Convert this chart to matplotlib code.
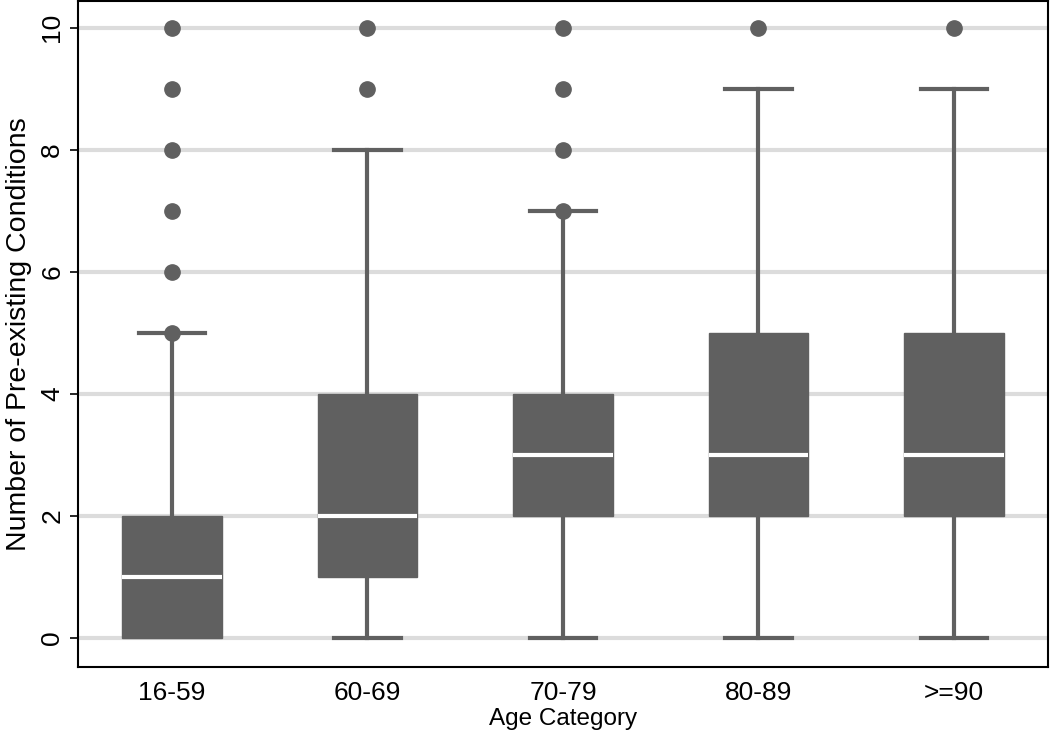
import matplotlib
matplotlib.use("Agg")
import matplotlib.pyplot as plt

plt.rcParams["font.family"] = ["Liberation Sans", "DejaVu Sans"]

categories = ["16-59", "60-69", "70-79", "80-89", ">=90"]
q1 = [0, 1, 2, 2, 2]
medians = [1, 2, 3, 3, 3]
q3 = [2, 4, 4, 5, 5]
whisker_low = [0, 0, 0, 0, 0]
whisker_high = [5, 8, 7, 9, 9]
outliers = [
    [5, 6, 7, 8, 9, 10],
    [9, 10],
    [7, 8, 9, 10],
    [10],
    [10],
]

stats = []
for i, name in enumerate(categories):
    stats.append({
        "label": name,
        "q1": q1[i],
        "med": medians[i],
        "q3": q3[i],
        "whislo": whisker_low[i],
        "whishi": whisker_high[i],
        "fliers": outliers[i],
    })

box_color = "#606060"

fig = plt.figure(figsize=(10.5, 7.45), dpi=100)
ax = fig.add_axes([0.0743, 0.1047, 0.9237, 0.894])

parts = ax.bxp(
    stats,
    positions=range(1, len(categories) + 1),
    widths=0.51,
    patch_artist=True,
    showfliers=True,
    boxprops=dict(facecolor=box_color, edgecolor=box_color, linewidth=1),
    medianprops=dict(color="white", linewidth=3),
    whiskerprops=dict(color=box_color, linewidth=3),
    capprops=dict(color=box_color, linewidth=3),
    capwidths=0.34,
    flierprops=dict(marker="o", markerfacecolor=box_color,
                    markeredgecolor=box_color, markersize=11),
    zorder=3,
)

# lower whisker coincides with the box bottom in the first group
for i in range(len(categories)):
    if whisker_low[i] == q1[i]:
        parts["caps"][2 * i].set_visible(False)

ax.set_xlim(0.52, 5.48)
ax.set_ylim(-0.475, 10.44)
ax.set_yticks(range(0, 11, 2))
ax.yaxis.grid(True, color="#dcdcdc", linewidth=3)
ax.set_axisbelow(True)

ax.tick_params(axis="x", length=0, labelsize=19, pad=10)
ax.tick_params(axis="y", length=6, width=1.2, labelsize=19, pad=4)
for lbl in ax.get_yticklabels():
    lbl.set_rotation(90)
    lbl.set_va("center")

for s in ax.spines.values():
    s.set_linewidth(1.5)
    s.set_color("black")

ax.set_xlabel("Age Category", fontsize=17.5, labelpad=2)
ax.set_ylabel("Number of Pre-existing Conditions", fontsize=20.5, labelpad=6)

fig.savefig("out.png", dpi=100)
plt.close(fig)
